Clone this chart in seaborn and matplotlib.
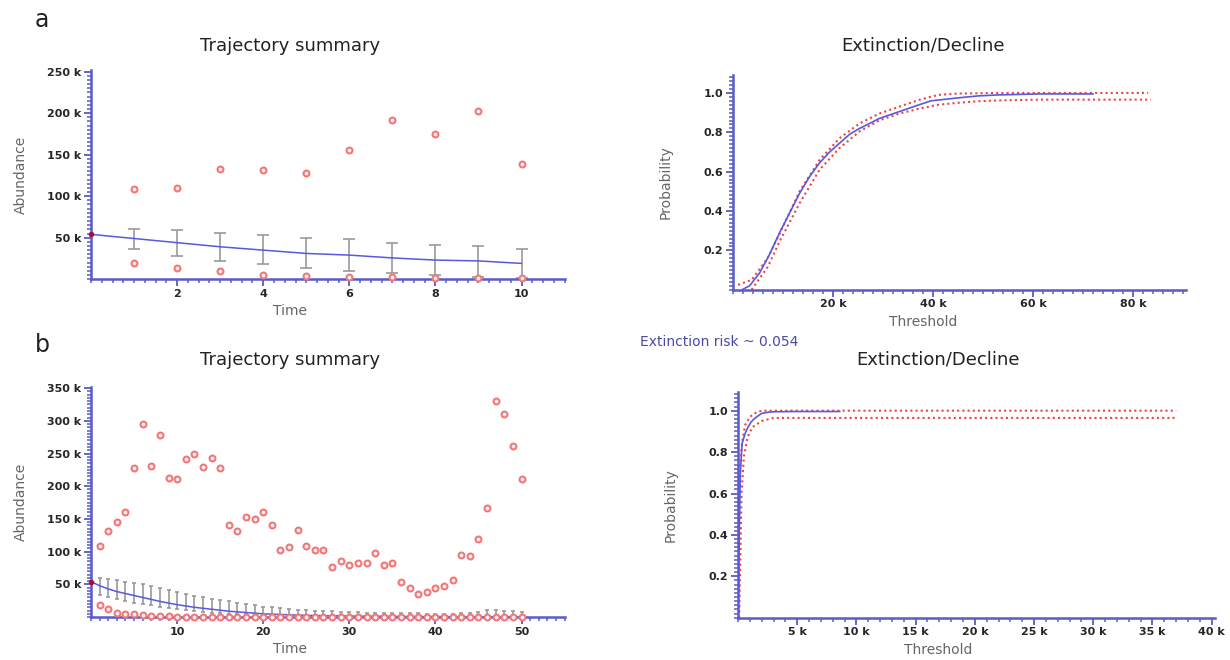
import matplotlib
matplotlib.use("Agg")
import matplotlib.pyplot as plt
import seaborn as sns
from matplotlib.ticker import FixedLocator, MultipleLocator, FuncFormatter

# ---- data (abundance / threshold in thousands) ----
# panel a, trajectory summary
time_a = [0, 1, 2, 3, 4, 5, 6, 7, 8, 9, 10]
mean_a = [54, 49, 44, 39, 35, 31, 29, 25.6, 23, 22, 19]
err_time_a = [1, 2, 3, 4, 5, 6, 7, 8, 9, 10]
hi_a = [61, 59, 56, 53, 49, 48, 44, 41, 40, 36]
lo_a = [36, 28, 22, 18, 14, 10, 7, 5, 3, 2]
max_a = [109, 110, 133, 131, 128, 155, 192, 175, 203, 139]
min_a = [19, 14, 10, 5, 4, 3, 3, 2, 1.5, 1]

# panel a, extinction/decline
thr_a = [1.8, 3.3, 5.3, 7.3, 9.3, 11.3, 13.3, 15.3, 17.3, 19.3, 21.3, 23.3,
         25.3, 27.3, 29.2, 33.2, 37.2, 39.6, 45, 49, 53, 61, 72]
prob_a = [0, 0.02, 0.085, 0.18, 0.29, 0.39, 0.49, 0.575, 0.645, 0.70, 0.745,
          0.79, 0.82, 0.845, 0.87, 0.905, 0.94, 0.96, 0.975, 0.985, 0.99, 0.995, 0.995]
up_thr_a = [1, 3.7, 6.9, 9.3, 13.3, 17.3, 21.3, 25.3, 29.2, 33.2, 37.2, 41, 45, 53, 83]
up_prob_a = [0.025, 0.05, 0.16, 0.285, 0.50, 0.66, 0.77, 0.845, 0.895, 0.93,
             0.965, 0.99, 0.997, 1.0, 1.0]
low_thr_a = [3.7, 6.9, 9.3, 13.3, 17.3, 21.3, 25.3, 29.2, 33.2, 37.2, 41, 45, 49, 53, 61, 83.5]
low_prob_a = [0, 0.115, 0.245, 0.44, 0.61, 0.72, 0.805, 0.86, 0.895, 0.92,
              0.94, 0.95, 0.958, 0.962, 0.966, 0.966]

# panel b, trajectory summary
time_b = list(range(0, 51))
mean_b = [54, 48, 43, 39, 36, 33, 30, 27, 24, 21.5,
          19, 17, 15, 13.5, 12, 10.5, 9, 8, 7, 6,
          5, 4.5, 4, 3.5, 3, 2.7, 2.4, 2.2, 2, 1.8,
          1.6, 1.5, 1.4, 1.3, 1.2, 1.1, 1, 0.9, 0.9, 0.8,
          0.8, 0.7, 0.7, 0.7, 0.6, 0.6, 0.6, 0.6, 0.6, 0.6, 0.6]
err_time_b = list(range(1, 51))
hi_b = [60, 58, 56, 54, 52, 50, 47, 45, 42, 39,
        36, 33, 30, 28, 26, 24, 22, 20, 18, 16,
        15, 13.5, 12.5, 11.5, 10.5, 10, 9.5, 9, 8.5, 8,
        7.5, 7, 7, 6.5, 6.5, 6, 6, 6, 5.5, 5.5,
        5.5, 5.5, 6, 7, 8, 11, 11, 10, 9, 8]
lo_b = [34, 30, 27, 24, 22, 20, 18, 16, 14, 12,
        10.5, 9, 8, 7, 6, 5, 4.5, 4, 3.5, 3,
        2.5, 2.2, 2, 1.8, 1.6, 1.4, 1.2, 1, 1, 1,
        0.9, 0.8, 0.8, 0.7, 0.7, 0.6, 0.6, 0.6, 0.5, 0.5,
        0.5, 0.5, 0.5, 0.5, 0.5, 0.5, 0.5, 0.5, 0.5, 0.5]
max_b = [108, 132, 146, 161, 228, 295, 231, 279, 213, 211,
         241, 249, 230, 243, 228, 141, 132, 153, 150, 160,
         140, 103, 107, 133, 108, 102, 103, 77, 86, 80,
         82, 82, 98, 79, 82, 54, 45, 35, 39, 45,
         47, 56, 95, 93, 120, 166, 330, 310, 262, 211]
min_b = [19, 12, 6, 5, 4, 2.5, 1.5, 1.5, 1, 0.5,
         0.4, 0.4, 0.3, 0.3, 0.3, 0.3, 0.3, 0.3, 0.3, 0.3,
         0.3, 0.3, 0.3, 0.3, 0.3, 0.3, 0.3, 0.3, 0.3, 0.3,
         0.3, 0.3, 0.3, 0.3, 0.3, 0.3, 0.3, 0.3, 0.3, 0.3,
         0.3, 0.3, 0.3, 0.3, 0.3, 0.3, 0.3, 0.3, 0.3, 0.3]

# panel b, extinction/decline
thr_b = [0, 0.1, 0.2, 0.34, 0.6, 0.84, 1.1, 1.35, 1.7, 2.0, 2.6, 3.2, 5, 8.6]
prob_b = [0, 0.4, 0.7, 0.84, 0.89, 0.92, 0.945, 0.96, 0.975, 0.987, 0.993, 0.995, 0.996, 0.996]
up_thr_b = [0, 0.05, 0.1, 0.2, 0.35, 0.6, 1.0, 1.5, 2.0, 37]
up_prob_b = [0, 0.3, 0.6, 0.75, 0.85, 0.93, 0.97, 0.99, 1.0, 1.0]
low_thr_b = [0.1, 0.2, 0.3, 0.5, 0.8, 1.2, 2, 3, 37]
low_prob_b = [0, 0.3, 0.6, 0.78, 0.87, 0.92, 0.95, 0.965, 0.965]

risk_text = "Extinction risk ~ 0.054"

# ---- style ----
sns.set_style("white")
plt.rcParams['font.family'] = ['DejaVu Sans']

AXIS = "#5a5ac8"
BLUE = "#5858e0"
RED = "#ee4444"
PINK = "#f07878"
GREY = "#999999"
LABEL = "#666666"

fig = plt.figure(figsize=(12.3, 6.6), dpi=100)

ksfmt = FuncFormatter(lambda v, p: f"{v:g} k")
pfmt = FuncFormatter(lambda v, p: f"{v:.1f}")
plainfmt = FuncFormatter(lambda v, p: f"{v:g}")


def style_axis(ax, xmajor, xminor, ymajor, yminor, xfmt, yfmt):
    for s in ["top", "right"]:
        ax.spines[s].set_visible(False)
    for s in ["left", "bottom"]:
        ax.spines[s].set_color(AXIS)
        ax.spines[s].set_linewidth(1.8)
    ax.xaxis.set_major_locator(FixedLocator(xmajor))
    ax.yaxis.set_major_locator(FixedLocator(ymajor))
    ax.xaxis.set_minor_locator(MultipleLocator(xminor))
    ax.yaxis.set_minor_locator(MultipleLocator(yminor))
    ax.xaxis.set_major_formatter(xfmt)
    ax.yaxis.set_major_formatter(yfmt)
    ax.tick_params(which="major", direction="out", length=5, width=1.3,
                   color=AXIS, labelsize=8, pad=2, left=True, bottom=True)
    ax.tick_params(which="minor", direction="out", length=3, width=1.1,
                   color=AXIS, left=True, bottom=True)
    for t in ax.get_xticklabels() + ax.get_yticklabels():
        t.set_fontweight("bold")
    ax.grid(False)


def trajectory(ax, t, mean, et, hi, lo, mx, mn, cap, xlim, ylim):
    ax.errorbar(et, [(h + l) / 2 for h, l in zip(hi, lo)],
                yerr=[[(h - l) / 2 for h, l in zip(hi, lo)]] * 2,
                fmt="none", ecolor=GREY, elinewidth=1.2, capsize=cap, capthick=1.2, zorder=2)
    sns.lineplot(x=t, y=mean, ax=ax, color=BLUE, linewidth=1.1, zorder=3)
    sns.scatterplot(x=et, y=mx, ax=ax, marker="o", s=18, facecolor="#fff0f0",
                    edgecolor=PINK, linewidth=1.5, zorder=4)
    sns.scatterplot(x=et, y=mn, ax=ax, marker="o", s=18, facecolor="#fff0f0",
                    edgecolor=PINK, linewidth=1.5, zorder=4, clip_on=False)
    ax.plot([t[0]], [mean[0]], marker="o", ms=3, color="#a01040", zorder=5, clip_on=False)
    ax.set_xlim(*xlim)
    ax.set_ylim(*ylim)
    ax.set_xlabel("Time", color=LABEL, fontsize=10, labelpad=4)
    ax.xaxis.label.set_x(0.42)
    ax.set_ylabel("Abundance", color=LABEL, fontsize=10, labelpad=14)


def decline(ax, thr, prob, ut, up, lt, lp, xlim):
    sns.lineplot(x=ut, y=up, ax=ax, color=RED, linestyle=(0, (1, 1.5)), linewidth=1.5,
                 sort=False, estimator=None, zorder=2)
    sns.lineplot(x=lt, y=lp, ax=ax, color=RED, linestyle=(0, (1, 1.5)), linewidth=1.5,
                 sort=False, estimator=None, zorder=2)
    sns.lineplot(x=thr, y=prob, ax=ax, color=BLUE, linewidth=1.2,
                 sort=False, estimator=None, zorder=3)
    ax.set_xlim(*xlim)
    ax.set_ylim(0, 1.09)
    ax.set_xlabel("Threshold", color=LABEL, fontsize=10, labelpad=4)
    ax.xaxis.label.set_x(0.42)
    ax.set_ylabel("Probability", color=LABEL, fontsize=10, labelpad=22)


TITLE = dict(fontsize=13, color="#222222")

# panel a, left
ax1 = fig.add_axes([0.074, 0.577, 0.385, 0.317])
trajectory(ax1, time_a, mean_a, err_time_a, hi_a, lo_a, max_a, min_a, 4, (0, 11), (0, 252))
ax1.set_title("Trajectory summary", x=0.42, pad=14, **TITLE)
style_axis(ax1, [2, 4, 6, 8, 10], 0.25, [50, 100, 150, 200, 250], 5, plainfmt, ksfmt)

# panel a, right
ax2 = fig.add_axes([0.596, 0.561, 0.368, 0.325])
decline(ax2, thr_a, prob_a, up_thr_a, up_prob_a, low_thr_a, low_prob_a, (0, 90.5))
ax2.set_title("Extinction/Decline", x=0.42, pad=18, **TITLE)
style_axis(ax2, [20, 40, 60, 80], 2, [0.2, 0.4, 0.6, 0.8, 1.0], 0.02, ksfmt, pfmt)

# panel b, left
ax3 = fig.add_axes([0.074, 0.065, 0.385, 0.349])
trajectory(ax3, time_b, mean_b, err_time_b, hi_b, lo_b, max_b, min_b, 1.5, (0, 55), (0, 352))
ax3.set_title("Trajectory summary", x=0.42, pad=16, **TITLE)
style_axis(ax3, [10, 20, 30, 40, 50], 1, [50, 100, 150, 200, 250, 300, 350], 5, plainfmt, ksfmt)

# panel b, right
ax4 = fig.add_axes([0.600, 0.064, 0.388, 0.342])
decline(ax4, thr_b, prob_b, up_thr_b, up_prob_b, low_thr_b, low_prob_b, (0, 40.3))
ax4.set_title("Extinction/Decline", x=0.42, pad=20, **TITLE)
style_axis(ax4, [5, 10, 15, 20, 25, 30, 35, 40], 1, [0.2, 0.4, 0.6, 0.8, 1.0], 0.02, ksfmt, pfmt)

fig.text(0.520, 0.482, risk_text, color="#4a4aa8", fontsize=10, va="center")
fig.text(0.028, 0.97, "a", fontsize=17, color="#222222", va="center")
fig.text(0.028, 0.478, "b", fontsize=17, color="#222222", va="center")

fig.savefig("out.png", dpi=100)
